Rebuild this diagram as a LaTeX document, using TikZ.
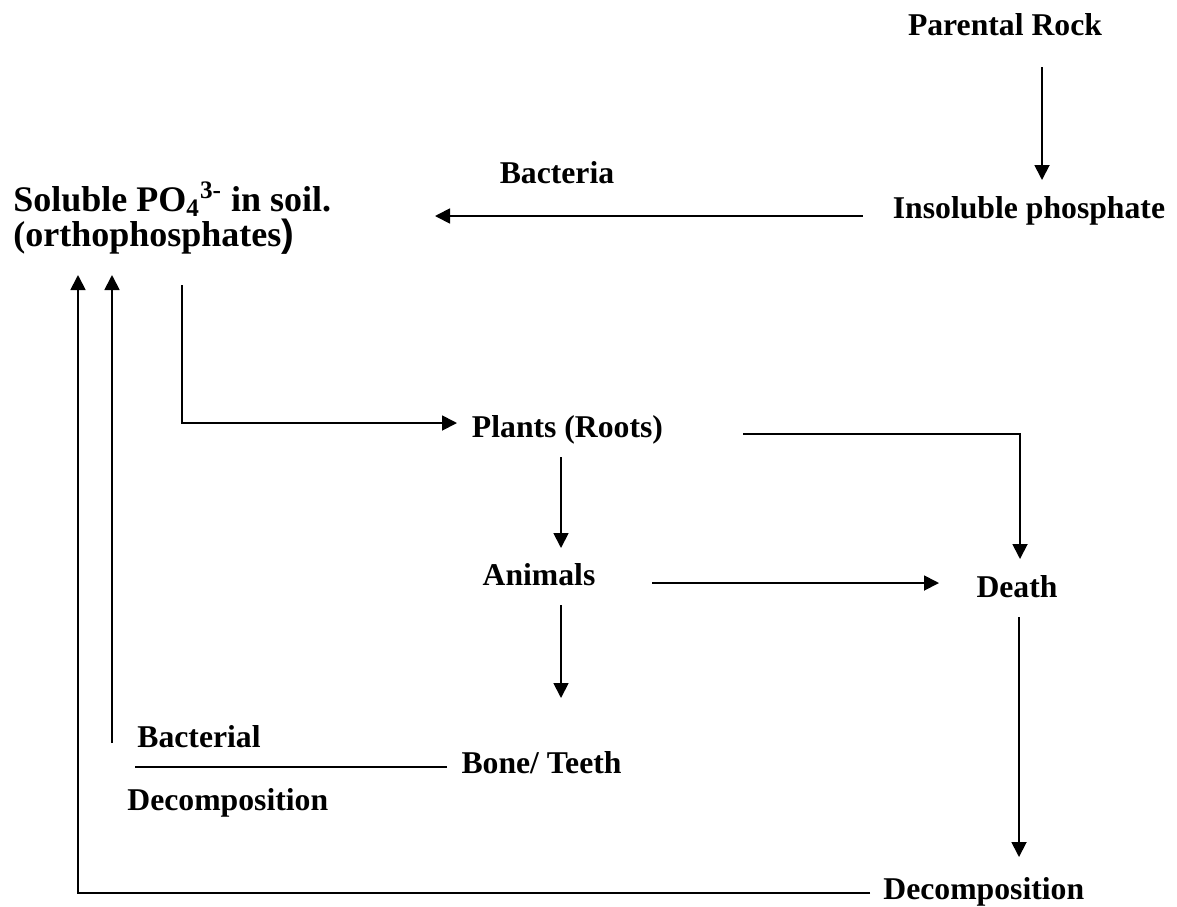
\documentclass[tikz,border=0pt]{standalone}
\usepackage{fontspec}
\setmainfont{Liberation Serif}
\newfontfamily\parenfont{Liberation Sans}
\usetikzlibrary{arrows.meta,calc}

\begin{document}
\begin{tikzpicture}[x=0.5pt,y=-0.5pt,
	every node/.style={inner sep=0pt,font=\fontsize{15.85}{19}\selectfont\bfseries},
	big/.style={font=\fontsize{18}{17.5}\selectfont\bfseries,align=left},
	arr/.style={-{Triangle[length=7.5pt,width=7.5pt]},line width=0.9pt},
	ln/.style={line width=0.9pt}]
			\useasboundingbox (0,0) rectangle (1177,906);
			\node [anchor=base] (rock) at (1005,35) {Parental Rock};
			\node [anchor=base] (insol) at (1029,218) {Insoluble phosphate};
			\node [anchor=base] (bact) at (557,183) {Bacteria};
			\coordinate (solpos) at (13,212);
			\node [big,anchor=base west] (sol) at (13,246) {Soluble PO\textsubscript{4}\textsuperscript{3-} in soil.\\(orthophosphates{\parenfont\fontsize{19}{17}\selectfont )}};
			\node [anchor=base] (plants) at (567.5,437) {Plants (Roots)};
			\node [anchor=base] (animals) at (539,585) {Animals};
			\node [anchor=base] (death) at (1017,597) {Death};
			\node [anchor=base] (bone) at (541.5,773) {Bone/ Teeth};
			\node [anchor=base west] (bactl) at (137,747) {Bacterial};
			\node [anchor=base west] (decl) at (127,810) {Decomposition};
			\node [anchor=base west] (decomp) at (883,899) {Decomposition};
			\draw [arr] ($(rock.base)+(37,32)$) -- ($(insol.base)+(13,-38)$);
			\draw [arr] ($(insol.base west)+(-30,-2)$) -- ($(solpos)+(422,4)$);
			\draw [arr] ($(solpos)+(169,73)$) |- ($(plants.base)+(-110.5,-14)$);
			\draw [arr] ($(plants.base)+(175.5,-3)$) -| ($(death.base)+(3,-38)$);
			\draw [arr] ($(plants.base)+(-6.5,20)$) -- ($(animals.base)+(22,-37)$);
			\draw [arr] ($(animals.base)+(113,-2)$) -- ($(death.base)+(-78,-14)$);
			\draw [arr] ($(animals.base)+(22,20)$) -- ($(bone.base)+(19.5,-75)$);
			\draw [ln] ($(bone.base)+(-94.5,-6)$) -- ($(bactl.base west)+(-2,20)$);
			\draw [arr] ($(bactl.base west)+(-25,-4)$) -- ($(solpos)+(99,63)$);
			\draw [arr] ($(death.base)+(2,20)$) -- ($(decomp.base west)+(136,-42)$);
			\draw [arr] ($(decomp.base west)+(-13,-6)$) -| ($(solpos)+(65,63)$);
\end{tikzpicture}
\end{document}
